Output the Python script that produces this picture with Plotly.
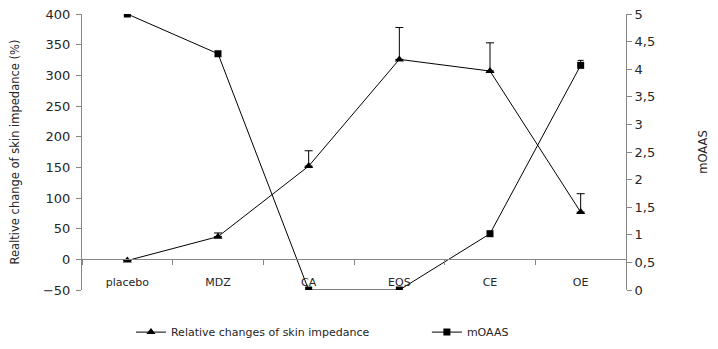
import plotly.graph_objects as go

categories = ["placebo", "MDZ", "CA", "EOS", "CE", "OE"]
impedance = [-2, 37, 152, 326, 307, 77]
impedance_err = [0, 6, 25, 52, 46, 30]
moaas = [5, 4.28, 0, 0, 1.02, 4.07]
moaas_err = [0, 0, 0, 0, 0, 0.09]

left_ticks = [-50, 0, 50, 100, 150, 200, 250, 300, 350, 400]
right_ticks = [0, 0.5, 1, 1.5, 2, 2.5, 3, 3.5, 4, 4.5, 5]

FONT = "DejaVu Sans"
AX = "#868686"
TXT = "#262626"

fig = go.Figure()
fig.add_trace(go.Scatter(
    x=categories, y=impedance, name="Relative changes of skin impedance",
    mode="lines+markers",
    line=dict(color="black", width=1),
    marker=dict(symbol="triangle-up", size=8, color="black"),
    error_y=dict(type="data", symmetric=False, array=impedance_err,
                 arrayminus=[0] * len(impedance_err), color="black",
                 thickness=1, width=4),
    yaxis="y", legend="legend",
))
fig.add_trace(go.Scatter(
    x=categories, y=moaas, name="mOAAS",
    mode="lines+markers",
    line=dict(color="black", width=1),
    marker=dict(symbol="square", size=7, color="black"),
    error_y=dict(type="data", symmetric=False, array=moaas_err,
                 arrayminus=[0] * len(moaas_err), color="black",
                 thickness=1, width=3),
    yaxis="y2", legend="legend2",
))

# page body has an 8px margin, so the figure is offset by 8px
fig.update_layout(
    width=710, height=341,
    margin=dict(l=74, r=92, t=6, b=59, autoexpand=False),
    paper_bgcolor="white", plot_bgcolor="white",
    separators=", ",
    font=dict(family=FONT, size=11, color=TXT),
    showlegend=True,
    legend=dict(orientation="h", x=0.09, xanchor="left", y=-0.1, yanchor="top",
                font=dict(size=11, color=TXT), itemwidth=30),
    legend2=dict(orientation="h", x=0.634, xanchor="left", y=-0.1, yanchor="top",
                 font=dict(size=11, color=TXT), itemwidth=30),
    xaxis=dict(
        type="category", categoryorder="array", categoryarray=categories,
        range=[-0.5, 5.5],
        anchor="free", position=50 / 450,
        showline=True, linecolor=AX, linewidth=1,
        ticks="outside", tickson="boundaries", ticklen=5, tickcolor=AX,
        ticklabelstandoff=12,
        showgrid=False, zeroline=False, automargin=False,
        tickfont=dict(size=11, color=TXT),
    ),
    yaxis=dict(
        range=[-50, 400], tickvals=left_ticks,
        showline=True, linecolor=AX, linewidth=1,
        ticks="outside", ticklen=5, tickcolor=AX, ticklabelstandoff=3,
        ticklabeloverflow="allow",
        showgrid=False, zeroline=False, automargin=False,
        tickfont=dict(size=13, color=TXT),
        title=dict(text="Realtive change of skin impedance (%)",
                   font=dict(size=11.5, color=TXT), standoff=20),
    ),
    yaxis2=dict(
        range=[0, 5], tickvals=right_ticks,
        overlaying="y", side="right", anchor="free", position=1,
        showline=True, linecolor=AX, linewidth=1,
        ticks="outside", ticklen=5, tickcolor=AX,
        ticklabeloverflow="allow",
        showgrid=False, zeroline=False, automargin=False,
        tickfont=dict(size=13, color=TXT),
        title=dict(text="mOAAS", font=dict(size=11.5, color=TXT), standoff=44),
    ),
)

fig.write_html("out.html")
